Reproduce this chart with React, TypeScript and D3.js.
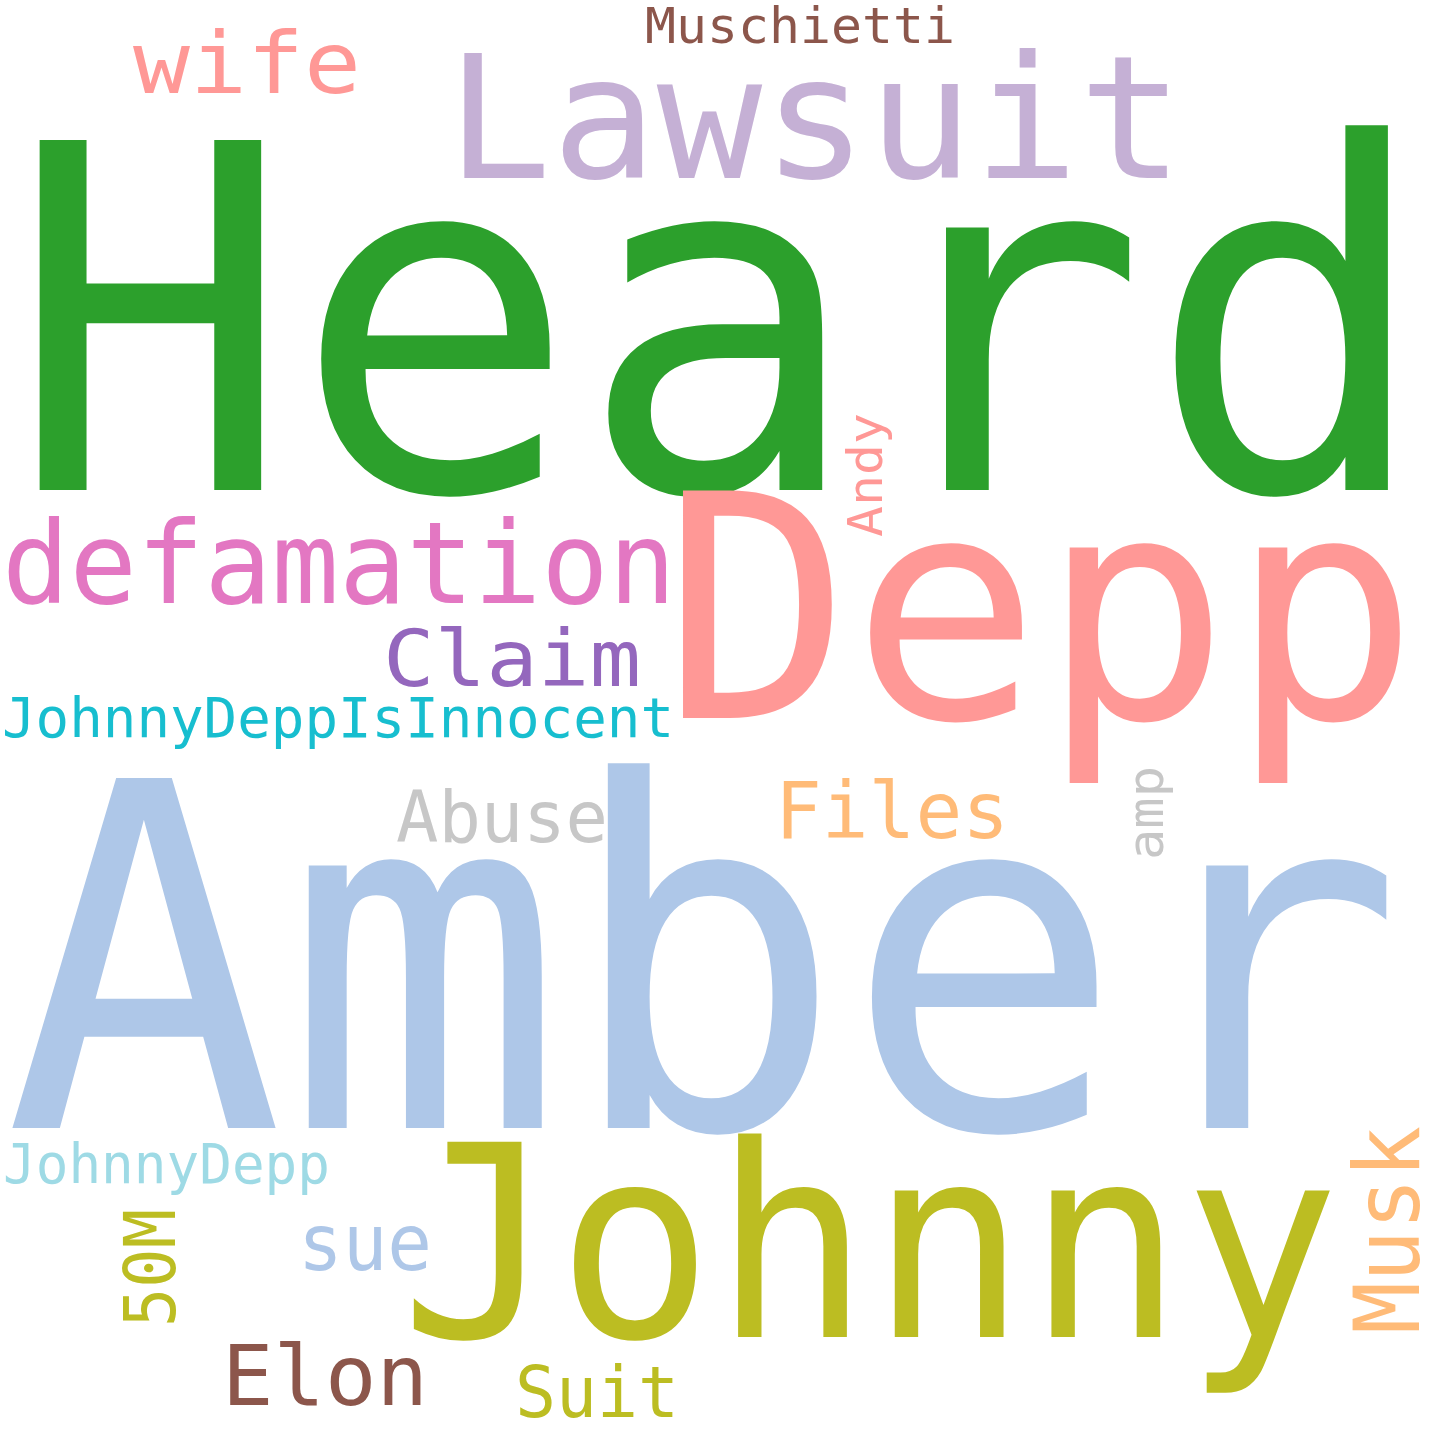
import React, { useRef, useEffect } from 'react';
import * as d3 from 'd3';

// word cloud entries: text, font size, colour, left/bottom anchor, span length, vertical flag
const words = ['Heard', 'Lawsuit', 'wife', 'Muschietti', 'defamation', 'Depp', 'Andy', 'Claim',
    'JohnnyDeppIsInnocent', 'Abuse', 'Files', 'amp', 'Amber', 'JohnnyDepp', 'Johnny', 'Musk',
    '50M', 'sue', 'Elon', 'Suit'];
const sizes = [480, 172, 86, 49, 114, 312, 48, 78, 56, 72, 78, 50, 480, 56, 268, 90, 72, 78, 84, 72];
const colors = ['#2ca02c', '#c5b0d5', '#ff9896', '#8c564b', '#e377c2', '#ff9896', '#ff9896', '#9467bd',
    '#17becf', '#c7c7c7', '#ffbb78', '#c7c7c7', '#aec7e8', '#9edae5', '#bcbd22', '#ffbb78',
    '#bcbd22', '#aec7e8', '#8c564b', '#bcbd22'];
const anchorX = [8, 446, 133, 645, 2, 662, 882, 383, 2, 396, 775, 1163, 4, 3, 400, 1419, 175, 298, 222, 515];
const anchorY = [490, 178, 93, 43, 603, 718, 537, 686, 737, 842, 838, 860, 1128, 1183, 1337, 1334, 1327, 1270, 1405, 1417];
const spans = [1424, 738, 228, 310, 674, 757, 124, 258, 672, 212, 234, 94, 1400, 327, 940, 208, 118, 134, 206, 164];
const vertical = [0, 0, 0, 0, 0, 0, 1, 0, 0, 0, 0, 1, 0, 0, 0, 1, 1, 0, 0, 0];

function WordCloud() {
    const svgRef = useRef<SVGSVGElement | null>(null);

    useEffect(() => {
        const svg = d3.select(svgRef.current);
        svg.selectAll("*").remove();
        svg.append("rect").attr("width", 1440).attr("height", 1440).attr("fill", "#fff");

        const data = words.map((w, i) => ({
            text: w, size: sizes[i], color: colors[i], x: anchorX[i], y: anchorY[i],
            span: spans[i], vert: vertical[i] === 1,
        }));

        svg.append("g")
            .selectAll("text")
            .data(data)
            .join("text")
            .attr("transform", d => `translate(${d.x},${d.y})${d.vert ? " rotate(-90)" : ""}`)
            .attr("font-family", "'DejaVu Sans Mono', monospace")
            .attr("font-size", d => d.size)
            .attr("fill", d => d.color)
            .attr("textLength", d => d.span)
            .attr("lengthAdjust", "spacingAndGlyphs")
            .text(d => d.text);
    }, []);

    return <svg ref={svgRef} width={1440} height={1440} style={{ position: 'absolute', left: 0, top: 0 }} />;
}

export default function App() {
    return <WordCloud />;
}
